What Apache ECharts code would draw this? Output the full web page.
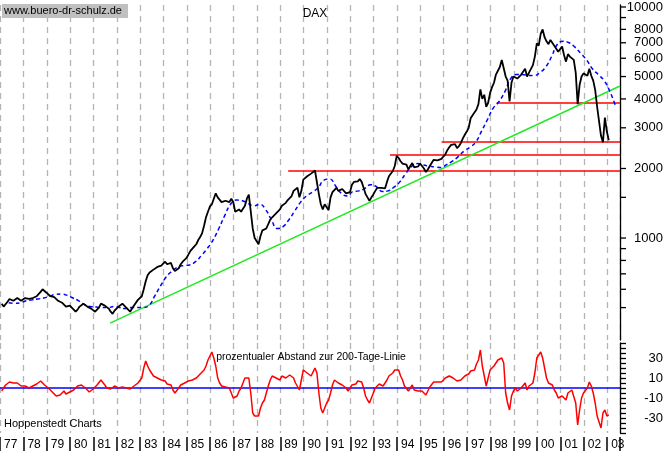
<!DOCTYPE html>
<html><head><meta charset="utf-8">
<script src="https://cdn.jsdelivr.net/npm/echarts@6/dist/echarts.min.js"></script>
<style>html,body{margin:0;padding:0;background:#fff}#c{width:668px;height:452px}</style>
</head><body><div id="c"></div>
<script>
// Monthly DAX values, Jan 1977 .. Jan 2003
const startYear = 1977;
const dax = [
520,505,515,530,545,540,535,545,550,540,535,545,
550,555,545,540,550,555,560,570,585,600,590,580,
570,560,565,555,545,535,530,525,520,505,500,510,
500,490,480,490,505,510,520,515,505,500,495,490,
480,490,500,520,530,510,505,495,480,470,485,495,
505,510,520,515,500,490,480,495,510,520,540,550,
560,600,650,690,710,720,730,725,750,740,760,775,
790,770,760,780,740,720,730,740,770,790,800,820,
850,880,900,920,940,980,1010,1050,1130,1230,1300,1370,
1400,1480,1560,1500,1490,1430,1410,1450,1470,1430,1480,1432,
1300,1280,1330,1300,1320,1380,1480,1540,1520,1100,1000,1000,
940,1020,1080,1090,1100,1150,1200,1230,1210,1280,1300,1330,
1380,1400,1420,1460,1480,1520,1600,1620,1650,1500,1600,1790,
1800,1850,1880,1900,1920,1960,1930,1550,1400,1330,1400,1400,
1320,1500,1580,1610,1650,1600,1620,1630,1600,1560,1550,1580,
1700,1750,1740,1760,1800,1750,1650,1550,1500,1450,1500,1545,
1600,1650,1680,1650,1630,1640,1750,1850,1850,1950,2050,2267,
2220,2150,2100,2070,2080,1980,2050,2110,2020,2000,2040,2100,
2050,2000,1930,1980,2050,2050,2180,2200,2170,2150,2200,2253,
2300,2400,2470,2530,2510,2550,2450,2500,2580,2700,2800,2890,
3000,3300,3400,3430,3600,3800,4400,4000,4170,3700,3850,4250,
4500,4700,5100,5100,5500,5900,6000,5000,4800,3900,4700,5000,
5000,4900,4880,5100,5100,5400,5000,5200,5150,5600,6100,6958,
6800,7650,8000,7400,7100,6900,7200,7200,6800,6800,6400,6430,
6750,6200,5800,6250,6100,6050,5900,5200,3800,4600,5000,5160,
5100,5040,5400,5040,4800,4380,3700,3700,2770,2600,3320,2890,
2650];
// 200-day line, quarterly (Jan, Apr, Jul, Oct)
const ma200 = [
525,522,525,535, 540,545,550,560, 570,572,565,550, 535,515,505,503,
500,500,505,500, 495,500,500,500, 510,560,620,680, 720,750,760,765,
790,840,900,980, 1100,1250,1400,1460, 1450,1410,1380,1400, 1330,1200,1100,1120,
1200,1310,1430,1520, 1580,1650,1780,1800, 1680,1560,1520,1590, 1600,1640,1700,1670,
1590,1600,1660,1750, 1900,2040,2100,2070, 2050,2030,2020,2080, 2150,2250,2380,2470,
2600,2900,3250,3650, 3900,4300,4900,5100, 5100,5050,5050,5200, 5500,6100,6900,7100,
7000,6700,6300,5900, 5400,5100,4800,4300, 3700];
// percentage distance to 200-day line, monthly
const dev = [
-3,0,3,5,6,4,5,3,5,4,2,1,
2,3,0,-1,2,3,4,6,7,5,3,2,
0,-2,-4,-6,-8,-9,-7,-5,-3,-6,-7,-4,
-3,-2,0,2,4,3,1,0,-2,-4,-3,-1,
1,3,5,8,7,3,0,-2,-1,0,2,1,
0,-1,1,2,0,-2,-1,1,2,3,5,6,
10,20,27,22,18,15,12,10,10,9,8,10,
7,4,2,3,-2,-5,-3,0,3,5,5,6,
7,8,8,9,10,12,14,15,18,22,28,32,
36,30,22,10,5,2,0,1,2,0,-5,-10,
-12,-8,-3,0,5,10,12,10,-5,-25,-28,-30,
-28,-20,-15,-12,-5,2,8,12,12,10,10,8,
12,13,10,12,13,14,10,5,3,-2,8,18,
20,15,13,12,14,20,15,-5,-20,-25,-20,-15,
-12,-5,3,8,10,5,4,3,2,0,-3,0,
3,5,4,7,8,6,0,-8,-12,-15,-10,-5,
0,2,4,3,2,2,8,12,13,15,18,20,
18,12,8,2,0,-3,0,3,-2,-4,-3,-1,
-3,-5,-7,-3,1,2,6,7,6,4,6,8,
10,11,12,11,10,10,7,6,8,9,12,13,
14,17,15,18,24,28,38,22,20,2,10,18,
20,22,25,28,30,30,25,-5,-15,-22,-8,-3,
0,-3,-5,0,2,5,-2,2,0,5,15,30,
32,36,30,20,10,5,5,3,-2,-5,-10,-12,
-8,-10,-12,-5,-3,-2,-4,-15,-37,-22,-10,-5,
-3,0,6,2,-5,-15,-28,-30,-40,-25,-22,-28,
-27];
const trendLine = [[1981.64, 428], [2003.48, 4550]];
const levels = [[1989.27, 1950], [1993.63, 2287], [1995.84, 2604], [1998.2, 3838]];
const yTicks = [500,600,700,800,900,1000,1500,2000,3000,4000,5000,6000,7000,8000,9000,10000];
const yLabels = [1000,2000,3000,4000,5000,6000,7000,8000,10000];
const yearLabels = ['77','78','79','80','81','82','83','84','85','86','87','88','89','90','91','92','93','94','95','96','97','98','99','00','01','02','03'];

const xMin = 1976.927, xMax = 2003.48, endX = 2003.48;
const t = i => startYear + i / 12;
const priceData = dax.map((v, i) => [t(i), v]);
const maData = ma200.map((v, i) => [startYear + i / 4 + 0.3, v]);
const devData = dev.map((v, i) => [t(i), v]);

const chart = echarts.init(document.getElementById('c'), null, {renderer: 'canvas'});
const gridLine = {show: true, lineStyle: {color: '#b4b4b4', type: [6, 5], width: 1.3}};
const hiddenX = (g) => ({gridIndex: g, type: 'value', min: xMin, max: xMax, interval: 1,
  axisLine: {show: false, onZero: false}, axisTick: {show: false}, axisLabel: {show: false}, splitLine: gridLine});
const levelSeries = levels.map(l => ({
  type: 'line', xAxisIndex: 0, yAxisIndex: 0, data: [[l[0], l[1]], [endX, l[1]]],
  symbol: 'none', silent: true, lineStyle: {color: '#ff0000', width: 1.5}, z: 3
}));
chart.setOption({
  animation: false,
  grid: [
    {left: 0, width: 620, top: 5, height: 335},
    {left: 0, width: 620, top: 343, height: 90},
    {left: 0, width: 620, top: 437, height: 14}
  ],
  xAxis: [
    hiddenX(0), hiddenX(1),
    {gridIndex: 2, type: 'value', min: xMin, max: xMax, interval: 1, position: 'top',
     axisLine: {show: false, onZero: false}, axisTick: {show: false},
     axisLabel: {show: true, inside: true, align: 'left', verticalAlign: 'top', margin: 2,
       padding: [0, 0, 0, 4], color: '#000', fontFamily: 'Liberation Sans, Arial', fontSize: 12,
       formatter: v => yearLabels[Math.round(v) - 1977] || ''},
     splitLine: {show: true, lineStyle: {color: '#000', width: 1.5}}}
  ],
  yAxis: [
    {gridIndex: 0, type: 'log', logBase: 10, min: 362, max: 10200, position: 'right',
     axisLine: {show: true, lineStyle: {color: '#000', width: 1.3}}, axisTick: {show: false},
     axisLabel: {show: false}, splitLine: {show: false}},
    {gridIndex: 1, type: 'value', min: -45, max: 45, interval: 5, position: 'right',
     axisLine: {show: true, onZero: false, lineStyle: {color: '#000', width: 1.3}},
     axisTick: {show: true, length: 6, lineStyle: {color: '#000', width: 1.3}},
     axisLabel: {show: true, align: 'right', margin: 43, color: '#000',
       fontFamily: 'Liberation Sans, Arial', fontSize: 13,
       formatter: v => ([30, 10, -10, -30].indexOf(v) >= 0 ? String(v) : '')},
     splitLine: {show: false}},
    {gridIndex: 2, type: 'value', min: 0, max: 1, show: false}
  ],
  series: [
    ...levelSeries,
    {type: 'line', xAxisIndex: 0, yAxisIndex: 0, data: trendLine, symbol: 'none',
     lineStyle: {color: '#22e822', width: 1.5}, z: 3},
    {type: 'line', xAxisIndex: 0, yAxisIndex: 0, data: maData, symbol: 'none', smooth: true,
     lineStyle: {color: '#0000ff', width: 1.5, type: [4, 3]}, z: 4},
    {type: 'line', xAxisIndex: 0, yAxisIndex: 0, data: priceData, symbol: 'none',
     lineStyle: {color: '#000', width: 1.8}, z: 5},
    {type: 'line', xAxisIndex: 1, yAxisIndex: 1, data: [[xMin, 0], [xMax, 0]], symbol: 'none',
     lineStyle: {color: '#0000ff', width: 1.5}, z: 3},
    {type: 'line', xAxisIndex: 1, yAxisIndex: 1, data: devData, symbol: 'none',
     lineStyle: {color: '#ff0000', width: 1.5}, z: 4}
  ]
});

const axisX = chart.convertToPixel({xAxisIndex: 0}, xMax);
const els = [];
yTicks.forEach(v => {
  const y = chart.convertToPixel({yAxisIndex: 0}, v);
  els.push({type: 'line', shape: {x1: axisX, y1: y, x2: axisX + 6, y2: y}, style: {stroke: '#000', lineWidth: 1.3}});
});
yLabels.forEach(v => {
  const y = chart.convertToPixel({yAxisIndex: 0}, v);
  els.push({type: 'text', x: 663, y: y, style: {text: String(v), align: 'right', verticalAlign: 'middle',
    font: '13px "Liberation Sans", Arial', fill: '#000'}});
});
els.push({type: 'rect', shape: {x: 2, y: 4, width: 126, height: 14}, style: {fill: '#c0c0c0'}});
els.push({type: 'text', x: 4, y: 11, style: {text: 'www.buero-dr-schulz.de', verticalAlign: 'middle',
  font: '11px "Liberation Sans", Arial', fill: '#000'}});
els.push({type: 'text', x: 315, y: 14, style: {text: 'DAX', align: 'center', verticalAlign: 'middle',
  font: '12px "Liberation Sans", Arial', fill: '#000'}});
els.push({type: 'text', x: 311, y: 357, style: {text: 'prozentualer Abstand zur 200-Tage-Linie', align: 'center',
  verticalAlign: 'middle', font: '10.5px "Liberation Sans", Arial', fill: '#000'}});
els.push({type: 'text', x: 4, y: 424, style: {text: 'Hoppenstedt Charts', verticalAlign: 'middle',
  font: '11px "Liberation Sans", Arial', fill: '#000'}});
chart.setOption({graphic: {elements: els}});
</script></body></html>
